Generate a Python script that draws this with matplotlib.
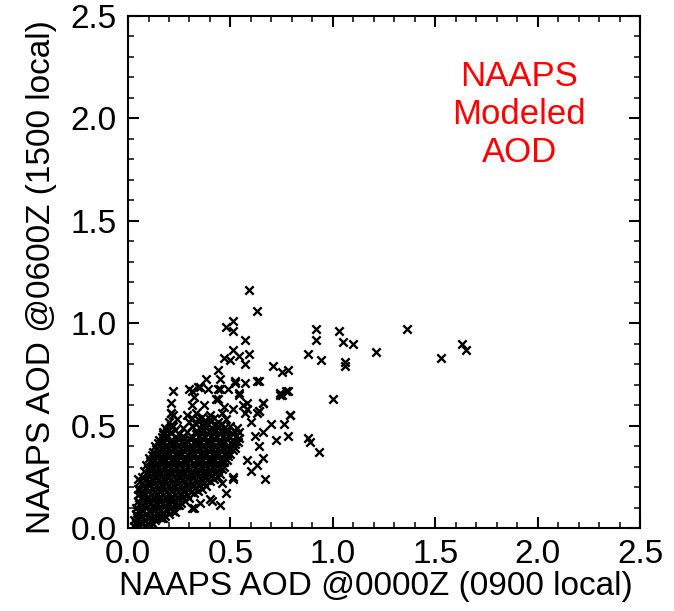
import matplotlib
matplotlib.use("Agg")
import matplotlib.pyplot as plt
from matplotlib.ticker import MultipleLocator

plt.rcParams['font.family'] = ['Liberation Sans', 'DejaVu Sans']

# NAAPS AOD at 0000Z (x) vs 0600Z (y)
# dense core of the cloud, row by row
core_points = [
    (0.03, 0.01), (0.05, 0.00), (0.07, 0.02), (0.09, 0.01), (0.11, 0.03),
    (0.03, 0.04), (0.05, 0.05), (0.08, 0.04), (0.10, 0.05), (0.13, 0.04), (0.16, 0.05),
    (0.04, 0.07), (0.06, 0.08), (0.09, 0.07), (0.11, 0.08), (0.14, 0.07), (0.17, 0.08), (0.20, 0.07),
    (0.04, 0.10), (0.07, 0.11), (0.09, 0.10), (0.12, 0.11), (0.15, 0.10), (0.18, 0.11), (0.21, 0.10),
    (0.24, 0.11),
    (0.05, 0.13), (0.08, 0.14), (0.10, 0.13), (0.13, 0.14), (0.16, 0.13), (0.19, 0.14), (0.22, 0.13),
    (0.25, 0.14), (0.28, 0.13),
    (0.05, 0.16), (0.08, 0.17), (0.11, 0.16), (0.14, 0.17), (0.17, 0.16), (0.20, 0.17), (0.23, 0.16),
    (0.26, 0.17), (0.29, 0.16), (0.32, 0.17),
    (0.06, 0.19), (0.09, 0.20), (0.12, 0.19), (0.15, 0.20), (0.18, 0.19), (0.21, 0.20), (0.24, 0.19),
    (0.27, 0.20), (0.30, 0.19), (0.33, 0.20), (0.36, 0.19),
    (0.07, 0.22), (0.10, 0.23), (0.13, 0.22), (0.16, 0.23), (0.19, 0.22), (0.22, 0.23), (0.25, 0.22),
    (0.28, 0.23), (0.31, 0.22), (0.34, 0.23), (0.37, 0.22), (0.40, 0.23),
    (0.07, 0.25), (0.11, 0.26), (0.14, 0.25), (0.17, 0.26), (0.20, 0.25), (0.23, 0.26), (0.26, 0.25),
    (0.29, 0.26), (0.32, 0.25), (0.35, 0.26), (0.38, 0.25), (0.41, 0.26), (0.44, 0.25),
    (0.08, 0.28), (0.10, 0.29), (0.13, 0.28), (0.16, 0.29), (0.19, 0.28), (0.22, 0.29), (0.25, 0.28),
    (0.28, 0.29), (0.31, 0.28), (0.34, 0.29), (0.37, 0.28), (0.40, 0.29), (0.43, 0.28), (0.46, 0.29),
    (0.09, 0.31), (0.11, 0.32), (0.14, 0.31), (0.17, 0.32), (0.20, 0.31), (0.23, 0.32), (0.26, 0.31),
    (0.29, 0.32), (0.32, 0.31), (0.35, 0.32), (0.38, 0.31), (0.41, 0.32), (0.44, 0.31), (0.47, 0.32),
    (0.10, 0.34), (0.13, 0.35), (0.16, 0.34), (0.19, 0.35), (0.22, 0.34), (0.25, 0.35), (0.28, 0.34),
    (0.31, 0.35), (0.34, 0.34), (0.37, 0.35), (0.40, 0.34), (0.43, 0.35), (0.46, 0.34), (0.49, 0.35),
    (0.12, 0.37), (0.15, 0.38), (0.18, 0.37), (0.21, 0.38), (0.24, 0.37), (0.27, 0.38), (0.30, 0.37),
    (0.33, 0.38), (0.36, 0.37), (0.39, 0.38), (0.42, 0.37), (0.45, 0.38), (0.48, 0.37), (0.51, 0.38),
    (0.13, 0.40), (0.16, 0.41), (0.19, 0.40), (0.22, 0.41), (0.25, 0.40), (0.28, 0.41), (0.31, 0.40),
    (0.34, 0.41), (0.37, 0.40), (0.40, 0.41), (0.43, 0.40), (0.46, 0.41), (0.49, 0.40), (0.52, 0.41),
    (0.15, 0.43), (0.18, 0.44), (0.21, 0.43), (0.24, 0.44), (0.27, 0.43), (0.30, 0.44), (0.33, 0.43),
    (0.36, 0.44), (0.39, 0.43), (0.42, 0.44), (0.45, 0.43), (0.48, 0.44), (0.51, 0.43), (0.54, 0.44),
    (0.17, 0.46), (0.21, 0.47), (0.25, 0.46), (0.29, 0.47), (0.33, 0.46), (0.36, 0.47), (0.39, 0.46),
    (0.42, 0.47), (0.45, 0.46), (0.48, 0.47), (0.51, 0.46), (0.54, 0.47),
    (0.18, 0.49), (0.22, 0.50), (0.27, 0.49), (0.31, 0.50), (0.35, 0.49), (0.38, 0.50), (0.41, 0.49),
    (0.44, 0.50), (0.47, 0.49), (0.50, 0.50), (0.53, 0.49),
    (0.20, 0.52), (0.24, 0.53), (0.30, 0.52), (0.34, 0.53), (0.37, 0.52), (0.40, 0.53), (0.44, 0.52),
    (0.48, 0.53),
    (0.22, 0.55), (0.29, 0.55), (0.33, 0.56), (0.40, 0.55), (0.46, 0.56),
]

# points sitting between the rows above, so the core reads solid black
core_fill = [
    (0.04, 0.025), (0.065, 0.03), (0.095, 0.025), (0.12, 0.02),
    (0.045, 0.055), (0.07, 0.06), (0.095, 0.055), (0.125, 0.06), (0.15, 0.055), (0.18, 0.06),
    (0.05, 0.085), (0.075, 0.09), (0.10, 0.085), (0.13, 0.09), (0.155, 0.085), (0.19, 0.09),
    (0.22, 0.085),
    (0.055, 0.115), (0.085, 0.12), (0.105, 0.115), (0.135, 0.12), (0.165, 0.115), (0.195, 0.12),
    (0.225, 0.115), (0.26, 0.12),
    (0.065, 0.145), (0.095, 0.15), (0.125, 0.145), (0.155, 0.15), (0.185, 0.145), (0.215, 0.15),
    (0.245, 0.145), (0.27, 0.15), (0.30, 0.145),
    (0.07, 0.175), (0.10, 0.18), (0.125, 0.175), (0.155, 0.18), (0.185, 0.175), (0.215, 0.18),
    (0.245, 0.175), (0.275, 0.18), (0.305, 0.175), (0.34, 0.18),
    (0.075, 0.205), (0.105, 0.21), (0.135, 0.205), (0.165, 0.21), (0.195, 0.205), (0.225, 0.21),
    (0.255, 0.205), (0.285, 0.21), (0.315, 0.205), (0.345, 0.21), (0.38, 0.205),
    (0.085, 0.235), (0.115, 0.24), (0.145, 0.235), (0.175, 0.24), (0.205, 0.235), (0.235, 0.24),
    (0.265, 0.235), (0.295, 0.24), (0.325, 0.235), (0.355, 0.24), (0.385, 0.235), (0.42, 0.24),
    (0.095, 0.265), (0.125, 0.27), (0.155, 0.265), (0.185, 0.27), (0.215, 0.265), (0.245, 0.27),
    (0.275, 0.265), (0.305, 0.27), (0.335, 0.265), (0.365, 0.27), (0.395, 0.265), (0.425, 0.27),
    (0.45, 0.265),
    (0.095, 0.295), (0.12, 0.30), (0.145, 0.295), (0.175, 0.30), (0.205, 0.295), (0.235, 0.30),
    (0.265, 0.295), (0.295, 0.30), (0.325, 0.295), (0.355, 0.30), (0.385, 0.295), (0.415, 0.30),
    (0.445, 0.295), (0.47, 0.30),
    (0.105, 0.325), (0.125, 0.33), (0.155, 0.325), (0.185, 0.33), (0.215, 0.325), (0.245, 0.33),
    (0.275, 0.325), (0.305, 0.33), (0.335, 0.325), (0.365, 0.33), (0.395, 0.325), (0.425, 0.33),
    (0.455, 0.325), (0.485, 0.33),
    (0.115, 0.355), (0.145, 0.36), (0.175, 0.355), (0.205, 0.36), (0.235, 0.355), (0.265, 0.36),
    (0.295, 0.355), (0.325, 0.36), (0.355, 0.355), (0.385, 0.36), (0.415, 0.355), (0.445, 0.36),
    (0.475, 0.355), (0.50, 0.36),
    (0.135, 0.385), (0.165, 0.39), (0.195, 0.385), (0.225, 0.39), (0.255, 0.385), (0.285, 0.39),
    (0.315, 0.385), (0.345, 0.39), (0.375, 0.385), (0.405, 0.39), (0.435, 0.385), (0.465, 0.39),
    (0.495, 0.385), (0.52, 0.39),
    (0.145, 0.415), (0.175, 0.42), (0.205, 0.415), (0.235, 0.42), (0.265, 0.415), (0.295, 0.42),
    (0.325, 0.415), (0.355, 0.42), (0.385, 0.415), (0.415, 0.42), (0.445, 0.415), (0.475, 0.42),
    (0.505, 0.415), (0.535, 0.42),
    (0.165, 0.445), (0.195, 0.45), (0.23, 0.445), (0.27, 0.45), (0.31, 0.445), (0.345, 0.45),
    (0.375, 0.445), (0.405, 0.45), (0.435, 0.445), (0.465, 0.45), (0.495, 0.445), (0.525, 0.45),
    (0.19, 0.475), (0.23, 0.48), (0.33, 0.475), (0.365, 0.48), (0.395, 0.475), (0.425, 0.48),
    (0.455, 0.475), (0.485, 0.48), (0.515, 0.475),
    (0.21, 0.505), (0.33, 0.51), (0.36, 0.505), (0.39, 0.51), (0.42, 0.505), (0.46, 0.51),
    (0.31, 0.535), (0.36, 0.54), (0.42, 0.535),
]

# scattered points around and above the core
loose_points = [
    (0.05, 0.04), (0.04, 0.03), (0.17, 0.05), (0.23, 0.08), (0.25, 0.11), (0.31, 0.10), (0.32, 0.10),
    (0.35, 0.12), (0.40, 0.14), (0.41, 0.13), (0.45, 0.11), (0.48, 0.17), (0.46, 0.22), (0.51, 0.24),
    (0.51, 0.25), (0.06, 0.23), (0.05, 0.19), (0.06, 0.17), (0.05, 0.24), (0.12, 0.32), (0.16, 0.37),
    (0.17, 0.47), (0.21, 0.56), (0.21, 0.61), (0.22, 0.67), (0.21, 0.56), (0.31, 0.60), (0.37, 0.60),
    (0.31, 0.67), (0.35, 0.69), (0.39, 0.68), (0.45, 0.68), (0.43, 0.63), (0.47, 0.59), (0.51, 0.58),
    (0.52, 0.71), (0.54, 0.65), (0.58, 0.61), (0.66, 0.61), (0.63, 0.56), (0.66, 0.47), (0.64, 0.40),
    (0.66, 0.34), (0.63, 0.31), (0.67, 0.24), (0.60, 0.52), (0.62, 0.45), (0.58, 0.33), (0.60, 0.28),
    (0.57, 0.56), (0.70, 0.51), (0.72, 0.43), (0.56, 0.60), (0.58, 0.58), (0.64, 0.57), (0.34, 0.69),
    (0.30, 0.68), (0.32, 0.64), (0.44, 0.63), (0.44, 0.77), (0.45, 0.73), (0.38, 0.73), (0.52, 0.72),
    (0.57, 0.71), (0.63, 0.72), (0.64, 0.72), (0.44, 0.68), (0.49, 0.68), (0.54, 0.66), (0.74, 0.65),
    (0.78, 0.67), (0.66, 0.61), (0.79, 0.55), (0.64, 0.57),
    (0.47, 0.83), (0.50, 0.82), (0.54, 0.84), (0.57, 0.80), (0.51, 0.87), (0.59, 0.85),
    (0.48, 0.98), (0.51, 1.01), (0.51, 0.96), (0.57, 0.92), (0.59, 1.16), (0.63, 1.06),
    (0.71, 0.79), (0.75, 0.76), (0.78, 0.77), (0.77, 0.67), (0.74, 0.66), (0.75, 0.65),
    (0.79, 0.55), (0.76, 0.51), (0.78, 0.45), (0.88, 0.44), (0.89, 0.42), (0.93, 0.37),
    (0.92, 0.97), (0.92, 0.92), (1.03, 0.96), (1.05, 0.91), (1.10, 0.90), (0.88, 0.85), (0.94, 0.82),
    (1.06, 0.81), (1.06, 0.79), (1.21, 0.86), (1.36, 0.97), (1.53, 0.83), (1.63, 0.90), (1.65, 0.87),
    (1.00, 0.63),
]

label_text = "NAAPS\nModeled\nAOD"

all_points = core_points + core_fill + loose_points
xs = [p[0] for p in all_points]
ys = [p[1] for p in all_points]

fig = plt.figure(figsize=(6.74, 6.11), dpi=100)
ax = fig.add_axes([0.190, 0.1358, 0.7596, 0.838])

ax.scatter(xs, ys, marker='x', s=36, c='black', linewidths=1.7)

ax.set_xlim(0, 2.5)
ax.set_ylim(0, 2.5)
ax.xaxis.set_major_locator(MultipleLocator(0.5))
ax.yaxis.set_major_locator(MultipleLocator(0.5))
ax.xaxis.set_minor_locator(MultipleLocator(0.1))
ax.yaxis.set_minor_locator(MultipleLocator(0.1))
ax.xaxis.set_major_formatter(lambda v, p: f"{v:.1f}")
ax.yaxis.set_major_formatter(lambda v, p: f"{v:.1f}")
ax.tick_params(which='both', direction='in', top=True, right=True, labelsize=24, pad=8)
ax.tick_params(which='major', length=8, width=1.5)
ax.tick_params(which='minor', length=4.5, width=1.1)
for s in ax.spines.values():
    s.set_linewidth(1.5)

ax.set_xlabel("NAAPS AOD @0000Z (0900 local)", fontsize=24)
ax.set_ylabel("NAAPS AOD @0600Z (1500 local)", fontsize=24)
ax.xaxis.set_label_coords(0.485, -0.083)
ax.yaxis.set_label_coords(-0.139, 0.491)

ax.text(1.91, 2.02, label_text, color='red', fontsize=25, ha='center', va='center',
        linespacing=1.2)

fig.savefig("out.png", dpi=100)
